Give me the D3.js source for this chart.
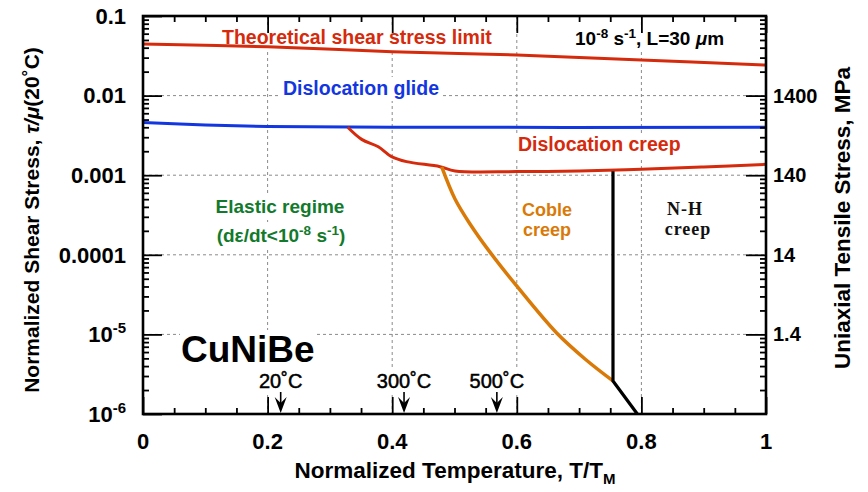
<!DOCTYPE html>
<html><head><meta charset="utf-8">
<script src="https://cdn.jsdelivr.net/npm/d3@7"></script>
<style>body{margin:0;background:#fff}svg{display:block}text{font-family:"Liberation Sans",Arial,sans-serif}</style>
</head><body><svg id="c" width="868" height="492"></svg>
<script>
// ---- data ----
const xTicks = [0, 0.2, 0.4, 0.6, 0.8, 1];
const xTickLabels = ["0", "0.2", "0.4", "0.6", "0.8", "1"];
const yTicks = [1e-6, 1e-5, 1e-4, 1e-3, 1e-2, 1e-1];
const yTickLabels = [["10","-6"], ["10","-5"], ["0.0001",""], ["0.001",""], ["0.01",""], ["0.1",""]];
const rightTicks = [1.4, 14, 140, 1400];
const rightTickLabels = ["1.4", "14", "140", "1400"];
const gridX = [0.2, 0.4, 0.6, 0.8];
const gridY = [1e-5, 1e-4, 1e-3, 1e-2];

const theoT = [0, 0.2, 0.4, 0.6, 0.8, 1];
const theoS = [0.0445, 0.0411, 0.0356, 0.0324, 0.0280, 0.0242];
const glideT = [0, 0.1, 0.2, 0.4, 1];
const glideS = [0.0046, 0.00427, 0.0041, 0.0040, 0.0040];
const creepT = [0.3286, 0.351, 0.3777, 0.399, 0.423, 0.4767, 0.5008, 0.6, 0.7, 0.8, 0.9, 1];
const creepS = [0.0040, 0.00282, 0.00228, 0.00171, 0.00148, 0.00128, 0.00113, 0.00111, 0.00113, 0.00119, 0.00127, 0.00137];
const cobleT = [0.4795, 0.5008, 0.5249, 0.5554, 0.5998, 0.664, 0.7095, 0.7544];
const cobleS = [0.00127, 5.02e-4, 2.44e-4, 1.12e-4, 4.06e-5, 1.04e-5, 4.91e-6, 2.6e-6];
const nhT = [0.7544, 0.7544, 0.7935];
const nhS = [0.00112, 2.6e-6, 1e-6];
const arrowT = [0.221, 0.419, 0.568];
const arrowLabels = ["20˚C", "300˚C", "500˚C"];

// ---- layout ----
const svg = d3.select("#c");
const L = 143, R = 766, T = 16, B = 414;
const x = d3.scaleLinear().domain([0, 1]).range([L, R]);
const y = d3.scaleLog().domain([1e-6, 0.1]).range([B, T]);
const yR = d3.scaleLog().domain([0.14, 14000]).range([B, T]);
const RED = "#d52a0c", BLUE = "#1236e0", ORANGE = "#d97a08", GREEN = "#127a2c";

const xMinor = d3.range(0, 1.0001, 0.05).map(v => +v.toFixed(2)).filter(v => !xTicks.includes(v));
const yMinor = [];
for (let e = -6; e < -1 + 1e-9; e++) for (let k = 2; k <= 9; k++) yMinor.push(k * Math.pow(10, e));
const rMinor = [];
for (let e = -1; e <= 3; e++) for (let k = 2; k <= 9; k++) { const v = 1.4 * k * Math.pow(10, e); if (v < 14000) rMinor.push(v); }

// gridlines
const grid = svg.append("g").attr("stroke", "#8a8a8a").attr("stroke-width", 1).attr("stroke-dasharray", "3,3");
grid.selectAll("line.gx").data(gridX).join("line").attr("x1", d => x(d)).attr("x2", d => x(d)).attr("y1", T).attr("y2", B);
grid.selectAll("line.gy").data(gridY).join("line").attr("y1", d => y(d)).attr("y2", d => y(d)).attr("x1", L).attr("x2", R);

const bgLayer = svg.append("g");
const curveLayer = svg.append("g");
const axisLayer = svg.append("g");
const textLayer = svg.append("g");

function bg(sel, pad) {
  const b = sel.node().getBBox();
  bgLayer.append("rect").attr("x", b.x - pad).attr("y", b.y - pad + 2).attr("width", b.width + 2 * pad).attr("height", b.height + 2 * pad - 2).attr("fill", "#fff");
}

// curves
const line = d3.line().x(d => x(d[0])).y(d => y(d[1]));
const lineS = d3.line().x(d => x(d[0])).y(d => y(d[1])).curve(d3.curveCatmullRom.alpha(0.5));
function draw(ts, ss, color, w, gen) {
  curveLayer.append("path").datum(ts.map((t, i) => [t, ss[i]])).attr("d", gen || line)
    .attr("fill", "none").attr("stroke", color).attr("stroke-width", w).attr("stroke-linejoin", "round");
}
draw(theoT, theoS, RED, 3, lineS);
draw(glideT, glideS, BLUE, 3, lineS);
draw(creepT, creepS, RED, 3, lineS);
draw(cobleT, cobleS, ORANGE, 3.5, lineS);
draw(nhT, nhS, "#000", 3.2);

// axes ticks
function ax(gen, tr, vals, size) {
  const g = axisLayer.append("g").attr("transform", tr)
    .call(gen.tickValues(vals).tickSize(size).tickFormat(""));
  g.select(".domain").remove();
  g.selectAll(".tick line").attr("stroke", "#000").attr("stroke-width", 1.8);
}
ax(d3.axisTop(x), `translate(0,${B})`, xTicks, 17);
ax(d3.axisTop(x), `translate(0,${B})`, xMinor, 6);
ax(d3.axisBottom(x), `translate(0,${T})`, xTicks, 17);
ax(d3.axisBottom(x), `translate(0,${T})`, xMinor, 6);
ax(d3.axisRight(y), `translate(${L},0)`, yTicks, 19);
ax(d3.axisRight(y), `translate(${L},0)`, yMinor, 6);
ax(d3.axisLeft(yR), `translate(${R},0)`, rightTicks, 20);
ax(d3.axisLeft(yR), `translate(${R},0)`, rMinor, 6);
axisLayer.append("rect").attr("x", L).attr("y", T).attr("width", R - L).attr("height", B - T)
  .attr("fill", "none").attr("stroke", "#000").attr("stroke-width", 2.6);

// tick labels
const tl = textLayer.append("g").attr("font-weight", "bold").attr("fill", "#000");
tl.selectAll("text.xl").data(xTicks).join("text").attr("x", d => x(d)).attr("y", 449)
  .attr("text-anchor", "middle").attr("font-size", 22).text((d, i) => xTickLabels[i]);
yTicks.forEach((v, i) => {
  const t = tl.append("text").attr("x", 126).attr("y", y(v) + 7.8).attr("text-anchor", "end").attr("font-size", 22);
  t.append("tspan").text(yTickLabels[i][0]);
  if (yTickLabels[i][1]) t.append("tspan").attr("font-size", 15).attr("dy", -9).text(yTickLabels[i][1]);
});
tl.selectAll("text.rl").data(rightTicks).join("text").attr("x", 773).attr("y", d => yR(d) + 7)
  .attr("text-anchor", "start").attr("font-size", 20).text((d, i) => rightTickLabels[i]);

// axis titles
const xt = textLayer.append("text").attr("x", 455).attr("y", 478).attr("text-anchor", "middle")
  .attr("font-size", 22.5).attr("font-weight", "bold");
xt.append("tspan").text("Normalized Temperature, T/T");
xt.append("tspan").attr("font-size", 15).attr("dy", 6).text("M");
const yt = textLayer.append("text").attr("transform", "translate(39,220) rotate(-90)").attr("text-anchor", "middle")
  .attr("font-size", 21).attr("font-weight", "bold");
yt.append("tspan").text("Normalized Shear Stress, ");
yt.append("tspan").attr("font-style", "italic").text("τ/μ");
yt.append("tspan").text("(20˚C)");
textLayer.append("text").attr("transform", "translate(850,218) rotate(-90)").attr("text-anchor", "middle")
  .attr("font-size", 22.5).attr("font-weight", "bold").text("Uniaxial Tensile Stress, MPa");

// annotations
function label(xp, yp, txt, color, size, anchor, pad) {
  const t = textLayer.append("text").attr("x", xp).attr("y", yp).attr("fill", color).attr("font-size", size)
    .attr("font-weight", "bold").attr("text-anchor", anchor || "start").text(txt);
  if (pad !== undefined) bg(t, pad);
  return t;
}
label(222, 44, "Theoretical shear stress limit", RED, 19.5, "start", 2);
label(283, 95, "Dislocation glide", BLUE, 19.5, "start", 2);
label(518, 151, "Dislocation creep", RED, 19.5, "start", 2);

const rate = textLayer.append("text").attr("x", 575).attr("y", 45).attr("font-size", 19).attr("font-weight", "bold");
rate.append("tspan").text("10");
rate.append("tspan").attr("font-size", 13.5).attr("dy", -7).text("-8");
rate.append("tspan").attr("dy", 7).text(" s");
rate.append("tspan").attr("font-size", 13.5).attr("dy", -7).text("-1");
rate.append("tspan").attr("dy", 7).text(", L=30 ");
rate.append("tspan").attr("font-style", "italic").text("μ");
rate.append("tspan").text("m");
bg(rate, 3);

const el1 = label(280, 213, "Elastic regime", GREEN, 19, "middle");
const el2 = textLayer.append("text").attr("x", 281).attr("y", 242).attr("fill", GREEN).attr("font-size", 19)
  .attr("font-weight", "bold").attr("text-anchor", "middle");
el2.append("tspan").text("(dε/dt<10");
el2.append("tspan").attr("font-size", 13.5).attr("dy", -7).text("-8");
el2.append("tspan").attr("dy", 7).text(" s");
el2.append("tspan").attr("font-size", 13.5).attr("dy", -7).text("-1");
el2.append("tspan").attr("dy", 7).text(")");
bg(el1, 3); bg(el2, 3);

const c1 = label(547, 216, "Coble", ORANGE, 18, "middle");
const c2 = label(547, 236, "creep", ORANGE, 18, "middle");
bg(c1, 3); bg(c2, 3);

const nh = textLayer.append("g").attr("font-size", 18).attr("font-weight", "bold")
  .attr("text-anchor", "middle").attr("letter-spacing", 1).attr("fill", "#111");
nh.append("text").attr("x", 685).attr("y", 215).style("font-family", "'Liberation Serif','Times New Roman',serif").text("N-H");
nh.append("text").attr("x", 688).attr("y", 235).style("font-family", "'Liberation Serif','Times New Roman',serif").text("creep");

const cu = label(181, 362, "CuNiBe", "#000", 37, "start");
bg(cu, 1);

// temperature arrows
arrowT.forEach((t, i) => {
  const ax0 = x(t);
  const lt = textLayer.append("text").attr("x", ax0).attr("y", 388).attr("text-anchor", "middle")
    .attr("font-size", 20).attr("fill", "#000").attr("stroke", "#000").attr("stroke-width", 0.5).text(arrowLabels[i]);
  bg(lt, 3);
  curveLayer.append("line").attr("x1", ax0).attr("x2", ax0).attr("y1", 392).attr("y2", 404)
    .attr("stroke", "#000").attr("stroke-width", 1.6);
  curveLayer.append("path").attr("d", `M${ax0},${B - 1} L${ax0 - 6},${B - 17} L${ax0},${B - 11} L${ax0 + 6},${B - 17} Z`)
    .attr("fill", "#000");
});
</script></body></html>
